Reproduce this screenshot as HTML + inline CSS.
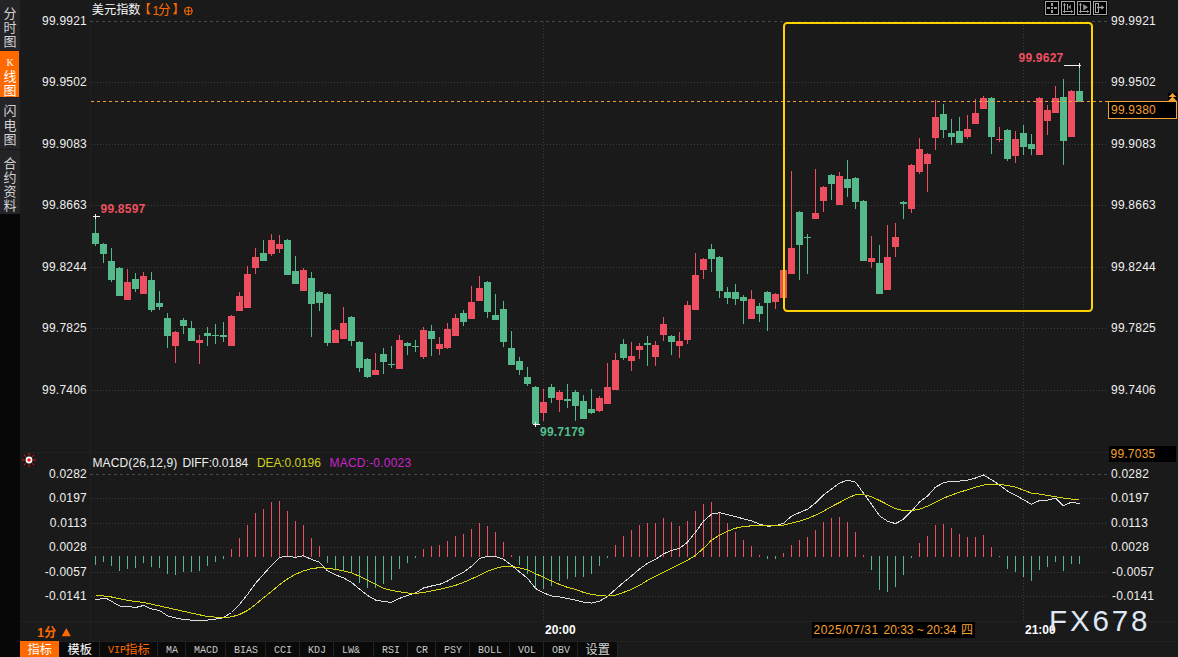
<!DOCTYPE html>
<html><head><meta charset="utf-8"><title>chart</title>
<style>
html,body{margin:0;padding:0;background:#1a1a1a;}
body{width:1178px;height:657px;position:relative;overflow:hidden;font-family:"Liberation Sans",sans-serif;}
svg{position:absolute;left:0;top:0;}
.t{position:absolute;white-space:nowrap;font-family:"Liberation Sans",sans-serif;}
</style></head><body>
<svg width="1178" height="657" viewBox="0 0 1178 657">
<rect x="0" y="0" width="20" height="214" fill="#242428"/>
<rect x="0" y="214" width="20" height="443" fill="#070707"/>
<rect x="0" y="51" width="19" height="46" fill="#ff6a00"/>
<rect x="0" y="50" width="20" height="1" fill="#1c1e24"/>
<rect x="0" y="97" width="20" height="1" fill="#1c1e24"/>
<rect x="0" y="149" width="20" height="1" fill="#18181a"/>
<rect x="90" y="0" width="1" height="641" fill="#1f1f1f"/>
<rect x="20" y="452" width="1089" height="1" fill="#202020"/>
<rect x="20" y="621" width="1158" height="1" fill="#212121"/>
<rect x="20" y="641" width="1158" height="1" fill="#202020"/>
<g shape-rendering="crispEdges">
<line x1="90" y1="21.5" x2="784" y2="21.5" stroke="#484848" stroke-width="1" stroke-dasharray="3 3"/>
<line x1="786" y1="21.5" x2="1092" y2="21.5" stroke="#2c2c2c" stroke-width="1" stroke-dasharray="3 3"/>
<line x1="1092" y1="21.5" x2="1107" y2="21.5" stroke="#484848" stroke-width="1" stroke-dasharray="3 3"/>
<line x1="91" y1="82.5" x2="1107" y2="82.5" stroke="#3b3b3b" stroke-width="1" stroke-dasharray="1 2"/>
<line x1="91" y1="144.5" x2="1107" y2="144.5" stroke="#3b3b3b" stroke-width="1" stroke-dasharray="1 2"/>
<line x1="91" y1="205.5" x2="1107" y2="205.5" stroke="#3b3b3b" stroke-width="1" stroke-dasharray="1 2"/>
<line x1="91" y1="267.5" x2="1107" y2="267.5" stroke="#3b3b3b" stroke-width="1" stroke-dasharray="1 2"/>
<line x1="91" y1="328.5" x2="1107" y2="328.5" stroke="#3b3b3b" stroke-width="1" stroke-dasharray="1 2"/>
<line x1="91" y1="390.5" x2="1107" y2="390.5" stroke="#3b3b3b" stroke-width="1" stroke-dasharray="1 2"/>
<line x1="90" y1="474.5" x2="1107" y2="474.5" stroke="#484848" stroke-width="1" stroke-dasharray="3 3"/>
<line x1="91" y1="498.5" x2="1107" y2="498.5" stroke="#3b3b3b" stroke-width="1" stroke-dasharray="1 2"/>
<line x1="91" y1="523.5" x2="1107" y2="523.5" stroke="#3b3b3b" stroke-width="1" stroke-dasharray="1 2"/>
<line x1="91" y1="547.5" x2="1107" y2="547.5" stroke="#3b3b3b" stroke-width="1" stroke-dasharray="1 2"/>
<line x1="91" y1="572.5" x2="1107" y2="572.5" stroke="#3b3b3b" stroke-width="1" stroke-dasharray="1 2"/>
<line x1="91" y1="596.5" x2="1107" y2="596.5" stroke="#3b3b3b" stroke-width="1" stroke-dasharray="1 2"/>
<line x1="543.5" y1="22" x2="543.5" y2="452" stroke="#3b3b3b" stroke-width="1" stroke-dasharray="1 2"/>
<line x1="543.5" y1="454" x2="543.5" y2="620" stroke="#3b3b3b" stroke-width="1" stroke-dasharray="1 2"/>
<line x1="1023.5" y1="22" x2="1023.5" y2="452" stroke="#3b3b3b" stroke-width="1" stroke-dasharray="1 2"/>
<line x1="1023.5" y1="454" x2="1023.5" y2="620" stroke="#3b3b3b" stroke-width="1" stroke-dasharray="1 2"/>
<rect x="95" y="216" width="1" height="30" fill="#55b98b"/>
<rect x="92" y="233" width="7" height="11" fill="#55b98b"/>
<rect x="103" y="243" width="1" height="20" fill="#55b98b"/>
<rect x="100" y="244" width="7" height="10" fill="#55b98b"/>
<rect x="111" y="248" width="1" height="34" fill="#55b98b"/>
<rect x="108" y="261" width="7" height="19" fill="#55b98b"/>
<rect x="119" y="267" width="1" height="29" fill="#55b98b"/>
<rect x="116" y="268" width="7" height="28" fill="#55b98b"/>
<rect x="127" y="269" width="1" height="31" fill="#ee4f60"/>
<rect x="124" y="282" width="7" height="18" fill="#ee4f60"/>
<rect x="135" y="273" width="1" height="19" fill="#55b98b"/>
<rect x="132" y="279" width="7" height="10" fill="#55b98b"/>
<rect x="143" y="272" width="1" height="22" fill="#ee4f60"/>
<rect x="140" y="276" width="7" height="18" fill="#ee4f60"/>
<rect x="151" y="272" width="1" height="40" fill="#55b98b"/>
<rect x="148" y="280" width="7" height="30" fill="#55b98b"/>
<rect x="159" y="291" width="1" height="19" fill="#55b98b"/>
<rect x="156" y="303" width="7" height="4" fill="#55b98b"/>
<rect x="167" y="313" width="1" height="35" fill="#55b98b"/>
<rect x="164" y="318" width="7" height="18" fill="#55b98b"/>
<rect x="175" y="331" width="1" height="32" fill="#ee4f60"/>
<rect x="172" y="332" width="7" height="14" fill="#ee4f60"/>
<rect x="183" y="318" width="1" height="16" fill="#55b98b"/>
<rect x="180" y="320" width="7" height="6" fill="#55b98b"/>
<rect x="191" y="321" width="1" height="20" fill="#55b98b"/>
<rect x="188" y="328" width="7" height="13" fill="#55b98b"/>
<rect x="199" y="335" width="1" height="29" fill="#ee4f60"/>
<rect x="196" y="340" width="7" height="3" fill="#ee4f60"/>
<rect x="207" y="327" width="1" height="19" fill="#55b98b"/>
<rect x="204" y="333" width="7" height="3" fill="#55b98b"/>
<rect x="215" y="324" width="1" height="20" fill="#55b98b"/>
<rect x="212" y="335" width="7" height="1" fill="#55b98b"/>
<rect x="223" y="322" width="1" height="20" fill="#55b98b"/>
<rect x="220" y="335" width="7" height="2" fill="#55b98b"/>
<rect x="231" y="315" width="1" height="31" fill="#ee4f60"/>
<rect x="228" y="316" width="7" height="30" fill="#ee4f60"/>
<rect x="239" y="292" width="1" height="19" fill="#ee4f60"/>
<rect x="236" y="296" width="7" height="15" fill="#ee4f60"/>
<rect x="247" y="266" width="1" height="42" fill="#ee4f60"/>
<rect x="244" y="274" width="7" height="34" fill="#ee4f60"/>
<rect x="255" y="248" width="1" height="26" fill="#ee4f60"/>
<rect x="252" y="257" width="7" height="11" fill="#ee4f60"/>
<rect x="263" y="240" width="1" height="21" fill="#55b98b"/>
<rect x="260" y="253" width="7" height="8" fill="#55b98b"/>
<rect x="271" y="234" width="1" height="22" fill="#ee4f60"/>
<rect x="268" y="240" width="7" height="14" fill="#ee4f60"/>
<rect x="279" y="235" width="1" height="18" fill="#ee4f60"/>
<rect x="276" y="244" width="7" height="5" fill="#ee4f60"/>
<rect x="287" y="239" width="1" height="36" fill="#55b98b"/>
<rect x="284" y="240" width="7" height="35" fill="#55b98b"/>
<rect x="295" y="256" width="1" height="28" fill="#55b98b"/>
<rect x="292" y="271" width="7" height="13" fill="#55b98b"/>
<rect x="303" y="268" width="1" height="23" fill="#ee4f60"/>
<rect x="300" y="270" width="7" height="21" fill="#ee4f60"/>
<rect x="311" y="272" width="1" height="65" fill="#55b98b"/>
<rect x="308" y="278" width="7" height="26" fill="#55b98b"/>
<rect x="319" y="291" width="1" height="20" fill="#55b98b"/>
<rect x="316" y="292" width="7" height="11" fill="#55b98b"/>
<rect x="327" y="293" width="1" height="53" fill="#55b98b"/>
<rect x="324" y="294" width="7" height="49" fill="#55b98b"/>
<rect x="335" y="329" width="1" height="14" fill="#ee4f60"/>
<rect x="332" y="330" width="7" height="13" fill="#ee4f60"/>
<rect x="343" y="307" width="1" height="32" fill="#ee4f60"/>
<rect x="340" y="323" width="7" height="16" fill="#ee4f60"/>
<rect x="351" y="316" width="1" height="30" fill="#55b98b"/>
<rect x="348" y="317" width="7" height="24" fill="#55b98b"/>
<rect x="359" y="341" width="1" height="31" fill="#55b98b"/>
<rect x="356" y="342" width="7" height="26" fill="#55b98b"/>
<rect x="367" y="358" width="1" height="20" fill="#55b98b"/>
<rect x="364" y="359" width="7" height="18" fill="#55b98b"/>
<rect x="375" y="353" width="1" height="22" fill="#ee4f60"/>
<rect x="372" y="370" width="7" height="5" fill="#ee4f60"/>
<rect x="383" y="348" width="1" height="26" fill="#55b98b"/>
<rect x="380" y="354" width="7" height="8" fill="#55b98b"/>
<rect x="391" y="346" width="1" height="22" fill="#55b98b"/>
<rect x="388" y="364" width="7" height="1" fill="#55b98b"/>
<rect x="399" y="335" width="1" height="34" fill="#ee4f60"/>
<rect x="396" y="340" width="7" height="29" fill="#ee4f60"/>
<rect x="407" y="342" width="1" height="13" fill="#55b98b"/>
<rect x="404" y="343" width="7" height="3" fill="#55b98b"/>
<rect x="415" y="340" width="1" height="12" fill="#55b98b"/>
<rect x="412" y="346" width="7" height="1" fill="#55b98b"/>
<rect x="423" y="327" width="1" height="32" fill="#ee4f60"/>
<rect x="420" y="330" width="7" height="27" fill="#ee4f60"/>
<rect x="431" y="325" width="1" height="31" fill="#55b98b"/>
<rect x="428" y="331" width="7" height="8" fill="#55b98b"/>
<rect x="439" y="337" width="1" height="18" fill="#ee4f60"/>
<rect x="436" y="344" width="7" height="5" fill="#ee4f60"/>
<rect x="447" y="323" width="1" height="26" fill="#ee4f60"/>
<rect x="444" y="329" width="7" height="19" fill="#ee4f60"/>
<rect x="455" y="314" width="1" height="22" fill="#ee4f60"/>
<rect x="452" y="318" width="7" height="18" fill="#ee4f60"/>
<rect x="463" y="310" width="1" height="16" fill="#55b98b"/>
<rect x="460" y="313" width="7" height="9" fill="#55b98b"/>
<rect x="471" y="286" width="1" height="33" fill="#ee4f60"/>
<rect x="468" y="302" width="7" height="17" fill="#ee4f60"/>
<rect x="479" y="276" width="1" height="25" fill="#ee4f60"/>
<rect x="476" y="288" width="7" height="13" fill="#ee4f60"/>
<rect x="487" y="281" width="1" height="37" fill="#55b98b"/>
<rect x="484" y="282" width="7" height="30" fill="#55b98b"/>
<rect x="495" y="294" width="1" height="26" fill="#55b98b"/>
<rect x="492" y="315" width="7" height="5" fill="#55b98b"/>
<rect x="503" y="301" width="1" height="46" fill="#55b98b"/>
<rect x="500" y="309" width="7" height="33" fill="#55b98b"/>
<rect x="511" y="331" width="1" height="34" fill="#55b98b"/>
<rect x="508" y="348" width="7" height="17" fill="#55b98b"/>
<rect x="519" y="357" width="1" height="18" fill="#55b98b"/>
<rect x="516" y="361" width="7" height="9" fill="#55b98b"/>
<rect x="527" y="367" width="1" height="19" fill="#55b98b"/>
<rect x="524" y="377" width="7" height="7" fill="#55b98b"/>
<rect x="535" y="386" width="1" height="39" fill="#55b98b"/>
<rect x="532" y="387" width="7" height="37" fill="#55b98b"/>
<rect x="543" y="389" width="1" height="32" fill="#ee4f60"/>
<rect x="540" y="402" width="7" height="11" fill="#ee4f60"/>
<rect x="551" y="384" width="1" height="19" fill="#55b98b"/>
<rect x="548" y="387" width="7" height="11" fill="#55b98b"/>
<rect x="559" y="390" width="1" height="22" fill="#ee4f60"/>
<rect x="556" y="392" width="7" height="8" fill="#ee4f60"/>
<rect x="567" y="384" width="1" height="24" fill="#55b98b"/>
<rect x="564" y="399" width="7" height="2" fill="#55b98b"/>
<rect x="575" y="390" width="1" height="31" fill="#55b98b"/>
<rect x="572" y="392" width="7" height="14" fill="#55b98b"/>
<rect x="583" y="395" width="1" height="24" fill="#55b98b"/>
<rect x="580" y="401" width="7" height="18" fill="#55b98b"/>
<rect x="591" y="389" width="1" height="25" fill="#55b98b"/>
<rect x="588" y="409" width="7" height="4" fill="#55b98b"/>
<rect x="599" y="396" width="1" height="16" fill="#ee4f60"/>
<rect x="596" y="398" width="7" height="13" fill="#ee4f60"/>
<rect x="607" y="363" width="1" height="41" fill="#ee4f60"/>
<rect x="604" y="387" width="7" height="17" fill="#ee4f60"/>
<rect x="615" y="353" width="1" height="37" fill="#ee4f60"/>
<rect x="612" y="360" width="7" height="30" fill="#ee4f60"/>
<rect x="623" y="339" width="1" height="21" fill="#55b98b"/>
<rect x="620" y="344" width="7" height="14" fill="#55b98b"/>
<rect x="631" y="342" width="1" height="29" fill="#ee4f60"/>
<rect x="628" y="356" width="7" height="5" fill="#ee4f60"/>
<rect x="639" y="343" width="1" height="16" fill="#ee4f60"/>
<rect x="636" y="346" width="7" height="4" fill="#ee4f60"/>
<rect x="647" y="336" width="1" height="30" fill="#55b98b"/>
<rect x="644" y="343" width="7" height="2" fill="#55b98b"/>
<rect x="655" y="341" width="1" height="25" fill="#ee4f60"/>
<rect x="652" y="345" width="7" height="12" fill="#ee4f60"/>
<rect x="663" y="317" width="1" height="24" fill="#ee4f60"/>
<rect x="660" y="324" width="7" height="11" fill="#ee4f60"/>
<rect x="671" y="335" width="1" height="20" fill="#55b98b"/>
<rect x="668" y="336" width="7" height="6" fill="#55b98b"/>
<rect x="679" y="332" width="1" height="26" fill="#ee4f60"/>
<rect x="676" y="341" width="7" height="5" fill="#ee4f60"/>
<rect x="687" y="301" width="1" height="43" fill="#ee4f60"/>
<rect x="684" y="305" width="7" height="35" fill="#ee4f60"/>
<rect x="695" y="253" width="1" height="57" fill="#ee4f60"/>
<rect x="692" y="275" width="7" height="35" fill="#ee4f60"/>
<rect x="703" y="258" width="1" height="21" fill="#ee4f60"/>
<rect x="700" y="259" width="7" height="11" fill="#ee4f60"/>
<rect x="711" y="244" width="1" height="28" fill="#55b98b"/>
<rect x="708" y="249" width="7" height="10" fill="#55b98b"/>
<rect x="719" y="256" width="1" height="42" fill="#55b98b"/>
<rect x="716" y="257" width="7" height="34" fill="#55b98b"/>
<rect x="727" y="287" width="1" height="17" fill="#55b98b"/>
<rect x="724" y="292" width="7" height="6" fill="#55b98b"/>
<rect x="735" y="284" width="1" height="21" fill="#55b98b"/>
<rect x="732" y="292" width="7" height="7" fill="#55b98b"/>
<rect x="743" y="295" width="1" height="29" fill="#55b98b"/>
<rect x="740" y="297" width="7" height="4" fill="#55b98b"/>
<rect x="751" y="290" width="1" height="29" fill="#ee4f60"/>
<rect x="748" y="299" width="7" height="20" fill="#ee4f60"/>
<rect x="759" y="303" width="1" height="19" fill="#55b98b"/>
<rect x="756" y="306" width="7" height="8" fill="#55b98b"/>
<rect x="767" y="291" width="1" height="40" fill="#55b98b"/>
<rect x="764" y="292" width="7" height="11" fill="#55b98b"/>
<rect x="775" y="293" width="1" height="16" fill="#ee4f60"/>
<rect x="772" y="294" width="7" height="8" fill="#ee4f60"/>
<rect x="783" y="270" width="1" height="28" fill="#ee4f60"/>
<rect x="780" y="270" width="7" height="28" fill="#ee4f60"/>
<rect x="791" y="171" width="1" height="103" fill="#ee4f60"/>
<rect x="788" y="248" width="7" height="26" fill="#ee4f60"/>
<rect x="799" y="211" width="1" height="69" fill="#55b98b"/>
<rect x="796" y="212" width="7" height="33" fill="#55b98b"/>
<rect x="807" y="234" width="1" height="40" fill="#55b98b"/>
<rect x="804" y="237" width="7" height="1" fill="#55b98b"/>
<rect x="815" y="169" width="1" height="50" fill="#ee4f60"/>
<rect x="812" y="213" width="7" height="6" fill="#ee4f60"/>
<rect x="823" y="186" width="1" height="26" fill="#ee4f60"/>
<rect x="820" y="187" width="7" height="14" fill="#ee4f60"/>
<rect x="831" y="174" width="1" height="26" fill="#55b98b"/>
<rect x="828" y="175" width="7" height="9" fill="#55b98b"/>
<rect x="839" y="172" width="1" height="33" fill="#ee4f60"/>
<rect x="836" y="176" width="7" height="29" fill="#ee4f60"/>
<rect x="847" y="160" width="1" height="37" fill="#55b98b"/>
<rect x="844" y="179" width="7" height="9" fill="#55b98b"/>
<rect x="855" y="177" width="1" height="32" fill="#55b98b"/>
<rect x="852" y="178" width="7" height="24" fill="#55b98b"/>
<rect x="863" y="200" width="1" height="61" fill="#55b98b"/>
<rect x="860" y="201" width="7" height="60" fill="#55b98b"/>
<rect x="871" y="236" width="1" height="32" fill="#ee4f60"/>
<rect x="868" y="258" width="7" height="4" fill="#ee4f60"/>
<rect x="879" y="245" width="1" height="49" fill="#55b98b"/>
<rect x="876" y="263" width="7" height="31" fill="#55b98b"/>
<rect x="887" y="225" width="1" height="65" fill="#ee4f60"/>
<rect x="884" y="257" width="7" height="33" fill="#ee4f60"/>
<rect x="895" y="223" width="1" height="34" fill="#ee4f60"/>
<rect x="892" y="237" width="7" height="10" fill="#ee4f60"/>
<rect x="903" y="201" width="1" height="18" fill="#55b98b"/>
<rect x="900" y="202" width="7" height="2" fill="#55b98b"/>
<rect x="911" y="164" width="1" height="49" fill="#ee4f60"/>
<rect x="908" y="165" width="7" height="44" fill="#ee4f60"/>
<rect x="919" y="138" width="1" height="36" fill="#ee4f60"/>
<rect x="916" y="149" width="7" height="23" fill="#ee4f60"/>
<rect x="927" y="153" width="1" height="39" fill="#ee4f60"/>
<rect x="924" y="154" width="7" height="10" fill="#ee4f60"/>
<rect x="935" y="100" width="1" height="50" fill="#ee4f60"/>
<rect x="932" y="117" width="7" height="21" fill="#ee4f60"/>
<rect x="943" y="104" width="1" height="34" fill="#55b98b"/>
<rect x="940" y="114" width="7" height="16" fill="#55b98b"/>
<rect x="951" y="119" width="1" height="26" fill="#55b98b"/>
<rect x="948" y="133" width="7" height="4" fill="#55b98b"/>
<rect x="959" y="117" width="1" height="26" fill="#55b98b"/>
<rect x="956" y="131" width="7" height="12" fill="#55b98b"/>
<rect x="967" y="115" width="1" height="24" fill="#ee4f60"/>
<rect x="964" y="129" width="7" height="8" fill="#ee4f60"/>
<rect x="975" y="99" width="1" height="25" fill="#ee4f60"/>
<rect x="972" y="113" width="7" height="11" fill="#ee4f60"/>
<rect x="983" y="96" width="1" height="13" fill="#ee4f60"/>
<rect x="980" y="98" width="7" height="11" fill="#ee4f60"/>
<rect x="991" y="97" width="1" height="57" fill="#55b98b"/>
<rect x="988" y="98" width="7" height="39" fill="#55b98b"/>
<rect x="999" y="127" width="1" height="15" fill="#ee4f60"/>
<rect x="996" y="139" width="7" height="1" fill="#ee4f60"/>
<rect x="1007" y="129" width="1" height="32" fill="#55b98b"/>
<rect x="1004" y="130" width="7" height="29" fill="#55b98b"/>
<rect x="1015" y="131" width="1" height="32" fill="#ee4f60"/>
<rect x="1012" y="139" width="7" height="17" fill="#ee4f60"/>
<rect x="1023" y="125" width="1" height="30" fill="#55b98b"/>
<rect x="1020" y="133" width="7" height="14" fill="#55b98b"/>
<rect x="1031" y="134" width="1" height="21" fill="#55b98b"/>
<rect x="1028" y="144" width="7" height="5" fill="#55b98b"/>
<rect x="1039" y="97" width="1" height="58" fill="#ee4f60"/>
<rect x="1036" y="98" width="7" height="57" fill="#ee4f60"/>
<rect x="1047" y="105" width="1" height="30" fill="#ee4f60"/>
<rect x="1044" y="110" width="7" height="11" fill="#ee4f60"/>
<rect x="1055" y="86" width="1" height="27" fill="#ee4f60"/>
<rect x="1052" y="98" width="7" height="15" fill="#ee4f60"/>
<rect x="1063" y="79" width="1" height="86" fill="#55b98b"/>
<rect x="1060" y="97" width="7" height="44" fill="#55b98b"/>
<rect x="1071" y="90" width="1" height="47" fill="#ee4f60"/>
<rect x="1068" y="91" width="7" height="46" fill="#ee4f60"/>
<rect x="1079" y="65" width="1" height="37" fill="#55b98b"/>
<rect x="1076" y="91" width="7" height="11" fill="#55b98b"/>
<rect x="95" y="556" width="1" height="9" fill="#55b98b"/>
<rect x="103" y="556" width="1" height="6" fill="#55b98b"/>
<rect x="111" y="556" width="1" height="10" fill="#55b98b"/>
<rect x="119" y="556" width="1" height="15" fill="#55b98b"/>
<rect x="127" y="556" width="1" height="13" fill="#55b98b"/>
<rect x="135" y="556" width="1" height="12" fill="#55b98b"/>
<rect x="143" y="556" width="1" height="7" fill="#55b98b"/>
<rect x="151" y="556" width="1" height="11" fill="#55b98b"/>
<rect x="159" y="556" width="1" height="12" fill="#55b98b"/>
<rect x="167" y="556" width="1" height="18" fill="#55b98b"/>
<rect x="175" y="556" width="1" height="19" fill="#55b98b"/>
<rect x="183" y="556" width="1" height="16" fill="#55b98b"/>
<rect x="191" y="556" width="1" height="16" fill="#55b98b"/>
<rect x="199" y="556" width="1" height="15" fill="#55b98b"/>
<rect x="207" y="556" width="1" height="10" fill="#55b98b"/>
<rect x="215" y="556" width="1" height="6" fill="#55b98b"/>
<rect x="223" y="556" width="1" height="3" fill="#55b98b"/>
<rect x="231" y="549" width="1" height="8" fill="#ee4f60"/>
<rect x="239" y="538" width="1" height="19" fill="#ee4f60"/>
<rect x="247" y="525" width="1" height="32" fill="#ee4f60"/>
<rect x="255" y="513" width="1" height="44" fill="#ee4f60"/>
<rect x="263" y="509" width="1" height="48" fill="#ee4f60"/>
<rect x="271" y="502" width="1" height="55" fill="#ee4f60"/>
<rect x="279" y="501" width="1" height="56" fill="#ee4f60"/>
<rect x="287" y="511" width="1" height="46" fill="#ee4f60"/>
<rect x="295" y="521" width="1" height="36" fill="#ee4f60"/>
<rect x="303" y="525" width="1" height="32" fill="#ee4f60"/>
<rect x="311" y="538" width="1" height="19" fill="#ee4f60"/>
<rect x="319" y="546" width="1" height="11" fill="#ee4f60"/>
<rect x="327" y="556" width="1" height="7" fill="#55b98b"/>
<rect x="335" y="556" width="1" height="13" fill="#55b98b"/>
<rect x="343" y="556" width="1" height="14" fill="#55b98b"/>
<rect x="351" y="556" width="1" height="17" fill="#55b98b"/>
<rect x="359" y="556" width="1" height="27" fill="#55b98b"/>
<rect x="367" y="556" width="1" height="32" fill="#55b98b"/>
<rect x="375" y="556" width="1" height="32" fill="#55b98b"/>
<rect x="383" y="556" width="1" height="28" fill="#55b98b"/>
<rect x="391" y="556" width="1" height="24" fill="#55b98b"/>
<rect x="399" y="556" width="1" height="13" fill="#55b98b"/>
<rect x="407" y="556" width="1" height="7" fill="#55b98b"/>
<rect x="415" y="556" width="1" height="2" fill="#55b98b"/>
<rect x="423" y="549" width="1" height="8" fill="#ee4f60"/>
<rect x="431" y="546" width="1" height="11" fill="#ee4f60"/>
<rect x="439" y="545" width="1" height="12" fill="#ee4f60"/>
<rect x="447" y="541" width="1" height="16" fill="#ee4f60"/>
<rect x="455" y="536" width="1" height="21" fill="#ee4f60"/>
<rect x="463" y="534" width="1" height="23" fill="#ee4f60"/>
<rect x="471" y="529" width="1" height="28" fill="#ee4f60"/>
<rect x="479" y="523" width="1" height="34" fill="#ee4f60"/>
<rect x="487" y="526" width="1" height="31" fill="#ee4f60"/>
<rect x="495" y="532" width="1" height="25" fill="#ee4f60"/>
<rect x="503" y="542" width="1" height="15" fill="#ee4f60"/>
<rect x="511" y="555" width="1" height="2" fill="#ee4f60"/>
<rect x="519" y="556" width="1" height="9" fill="#55b98b"/>
<rect x="527" y="556" width="1" height="18" fill="#55b98b"/>
<rect x="535" y="556" width="1" height="32" fill="#55b98b"/>
<rect x="543" y="556" width="1" height="33" fill="#55b98b"/>
<rect x="551" y="556" width="1" height="30" fill="#55b98b"/>
<rect x="559" y="556" width="1" height="25" fill="#55b98b"/>
<rect x="567" y="556" width="1" height="23" fill="#55b98b"/>
<rect x="575" y="556" width="1" height="21" fill="#55b98b"/>
<rect x="583" y="556" width="1" height="21" fill="#55b98b"/>
<rect x="591" y="556" width="1" height="18" fill="#55b98b"/>
<rect x="599" y="556" width="1" height="10" fill="#55b98b"/>
<rect x="607" y="556" width="1" height="2" fill="#55b98b"/>
<rect x="615" y="545" width="1" height="12" fill="#ee4f60"/>
<rect x="623" y="536" width="1" height="21" fill="#ee4f60"/>
<rect x="631" y="530" width="1" height="27" fill="#ee4f60"/>
<rect x="639" y="525" width="1" height="32" fill="#ee4f60"/>
<rect x="647" y="523" width="1" height="34" fill="#ee4f60"/>
<rect x="655" y="523" width="1" height="34" fill="#ee4f60"/>
<rect x="663" y="518" width="1" height="39" fill="#ee4f60"/>
<rect x="671" y="522" width="1" height="35" fill="#ee4f60"/>
<rect x="679" y="526" width="1" height="31" fill="#ee4f60"/>
<rect x="687" y="521" width="1" height="36" fill="#ee4f60"/>
<rect x="695" y="511" width="1" height="46" fill="#ee4f60"/>
<rect x="703" y="504" width="1" height="53" fill="#ee4f60"/>
<rect x="711" y="502" width="1" height="55" fill="#ee4f60"/>
<rect x="719" y="513" width="1" height="44" fill="#ee4f60"/>
<rect x="727" y="523" width="1" height="34" fill="#ee4f60"/>
<rect x="735" y="532" width="1" height="25" fill="#ee4f60"/>
<rect x="743" y="540" width="1" height="17" fill="#ee4f60"/>
<rect x="751" y="546" width="1" height="11" fill="#ee4f60"/>
<rect x="759" y="555" width="1" height="2" fill="#ee4f60"/>
<rect x="767" y="556" width="1" height="3" fill="#55b98b"/>
<rect x="775" y="556" width="1" height="3" fill="#55b98b"/>
<rect x="783" y="553" width="1" height="4" fill="#ee4f60"/>
<rect x="791" y="545" width="1" height="12" fill="#ee4f60"/>
<rect x="799" y="540" width="1" height="17" fill="#ee4f60"/>
<rect x="807" y="537" width="1" height="20" fill="#ee4f60"/>
<rect x="815" y="530" width="1" height="27" fill="#ee4f60"/>
<rect x="823" y="522" width="1" height="35" fill="#ee4f60"/>
<rect x="831" y="518" width="1" height="39" fill="#ee4f60"/>
<rect x="839" y="517" width="1" height="40" fill="#ee4f60"/>
<rect x="847" y="522" width="1" height="35" fill="#ee4f60"/>
<rect x="855" y="532" width="1" height="25" fill="#ee4f60"/>
<rect x="863" y="555" width="1" height="2" fill="#ee4f60"/>
<rect x="871" y="556" width="1" height="14" fill="#55b98b"/>
<rect x="879" y="556" width="1" height="34" fill="#55b98b"/>
<rect x="887" y="556" width="1" height="36" fill="#55b98b"/>
<rect x="895" y="556" width="1" height="31" fill="#55b98b"/>
<rect x="903" y="556" width="1" height="19" fill="#55b98b"/>
<rect x="911" y="556" width="1" height="2" fill="#55b98b"/>
<rect x="919" y="543" width="1" height="14" fill="#ee4f60"/>
<rect x="927" y="536" width="1" height="21" fill="#ee4f60"/>
<rect x="935" y="525" width="1" height="32" fill="#ee4f60"/>
<rect x="943" y="524" width="1" height="33" fill="#ee4f60"/>
<rect x="951" y="528" width="1" height="29" fill="#ee4f60"/>
<rect x="959" y="534" width="1" height="23" fill="#ee4f60"/>
<rect x="967" y="537" width="1" height="20" fill="#ee4f60"/>
<rect x="975" y="537" width="1" height="20" fill="#ee4f60"/>
<rect x="983" y="535" width="1" height="22" fill="#ee4f60"/>
<rect x="991" y="547" width="1" height="10" fill="#ee4f60"/>
<rect x="999" y="556" width="1" height="1" fill="#55b98b"/>
<rect x="1007" y="556" width="1" height="13" fill="#55b98b"/>
<rect x="1015" y="556" width="1" height="16" fill="#55b98b"/>
<rect x="1023" y="556" width="1" height="21" fill="#55b98b"/>
<rect x="1031" y="556" width="1" height="25" fill="#55b98b"/>
<rect x="1039" y="556" width="1" height="14" fill="#55b98b"/>
<rect x="1047" y="556" width="1" height="11" fill="#55b98b"/>
<rect x="1055" y="556" width="1" height="6" fill="#55b98b"/>
<rect x="1063" y="556" width="1" height="15" fill="#55b98b"/>
<rect x="1071" y="556" width="1" height="8" fill="#55b98b"/>
<rect x="1079" y="556" width="1" height="8" fill="#55b98b"/>
<line x1="91" y1="101.5" x2="1108" y2="101.5" stroke="#f5a133" stroke-width="1" stroke-dasharray="3 3"/>
<rect x="93" y="216" width="7" height="1" fill="#f0f0f0"/><rect x="95" y="214" width="1" height="5" fill="#f0f0f0"/>
<rect x="533" y="424" width="7" height="1" fill="#f0f0f0"/><rect x="535" y="422" width="1" height="5" fill="#f0f0f0"/>
<rect x="1064" y="65" width="17" height="1" fill="#f0f0f0"/><rect x="1079" y="63" width="1" height="5" fill="#f0f0f0"/>
</g>
<polyline points="95.5,599.8 103.5,598.4 107.5,599.0 119.5,606.0 127.5,606.5 135.5,607.5 143.5,605.5 151.5,608.9 159.5,610.5 167.5,615.9 175.5,617.9 183.5,619.5 191.5,620.1 199.5,620.1 207.5,620.1 215.5,619.1 223.5,617.7 231.5,612.5 239.5,604.4 247.5,594.4 255.5,583.4 263.5,574.3 271.5,565.3 279.5,557.3 287.5,556.3 295.5,557.3 303.5,555.7 311.5,559.3 319.5,562.3 327.5,570.9 335.5,574.9 343.5,577.9 351.5,582.4 359.5,589.0 367.5,595.4 375.5,600.0 383.5,601.4 391.5,602.4 399.5,598.4 407.5,595.4 415.5,593.0 423.5,588.0 431.5,586.0 439.5,584.4 447.5,581.0 455.5,576.3 463.5,572.3 471.5,566.3 479.5,558.3 487.5,556.3 495.5,556.3 503.5,559.3 511.5,565.3 519.5,571.9 527.5,578.3 535.5,588.4 543.5,592.9 551.5,595.9 559.5,596.9 567.5,598.5 575.5,600.1 583.5,602.1 591.5,603.1 599.5,601.1 607.5,596.5 615.5,589.4 623.5,582.4 631.5,576.0 639.5,569.0 647.5,563.3 655.5,559.3 663.5,553.9 671.5,550.3 679.5,548.3 687.5,542.2 695.5,532.2 703.5,521.2 711.5,514.1 719.5,512.7 727.5,514.5 735.5,516.7 743.5,518.8 751.5,520.8 759.5,524.2 767.5,526.2 775.5,525.8 783.5,523.2 791.5,516.2 799.5,512.6 807.5,509.2 815.5,503.1 823.5,495.1 831.5,489.1 839.5,483.1 847.5,480.1 855.5,482.1 863.5,493.1 871.5,504.2 879.5,515.8 887.5,521.2 895.5,523.6 903.5,519.2 911.5,511.2 919.5,502.1 927.5,496.1 935.5,487.1 943.5,482.8 951.5,481.1 959.5,481.1 967.5,480.1 975.5,478.0 983.5,475.0 991.5,479.7 999.5,485.1 1007.5,491.1 1015.5,495.1 1023.5,499.7 1031.5,504.2 1039.5,500.5 1047.5,500.1 1055.5,498.1 1063.5,505.8 1071.5,502.1 1079.5,503.6" fill="none" stroke="#dcdcdc" stroke-width="1" stroke-linejoin="round" shape-rendering="crispEdges"/>
<polyline points="95.5,595.0 111.5,597.0 127.5,600.4 143.5,602.4 159.5,605.9 175.5,609.5 191.5,613.1 207.5,616.5 223.5,617.7 231.5,616.9 239.5,614.5 247.5,610.5 255.5,604.4 263.5,597.8 271.5,591.4 279.5,584.8 287.5,578.9 295.5,574.3 303.5,570.9 311.5,568.7 319.5,567.6 327.5,568.3 335.5,569.3 343.5,570.9 351.5,572.9 359.5,576.3 367.5,580.4 375.5,584.4 383.5,588.4 391.5,590.4 399.5,591.8 407.5,593.0 415.5,593.4 423.5,592.4 431.5,591.0 439.5,589.4 447.5,587.4 455.5,585.4 463.5,582.4 471.5,578.9 479.5,575.3 487.5,571.3 495.5,568.3 503.5,566.3 511.5,566.3 519.5,567.9 527.5,569.9 535.5,573.7 543.5,577.2 551.5,581.0 559.5,584.4 567.5,587.4 575.5,589.4 583.5,592.4 591.5,594.5 599.5,595.5 607.5,596.1 615.5,595.1 623.5,592.4 631.5,589.4 639.5,585.4 647.5,580.4 655.5,576.4 663.5,572.4 671.5,568.4 679.5,564.3 687.5,560.3 695.5,555.3 703.5,548.3 711.5,540.2 719.5,535.2 727.5,531.2 735.5,528.2 743.5,526.6 751.5,525.8 759.5,525.6 767.5,525.7 775.5,525.8 783.5,525.2 791.5,523.2 799.5,521.2 807.5,518.6 815.5,515.2 823.5,511.2 831.5,506.6 839.5,502.5 847.5,498.1 855.5,494.7 863.5,494.7 871.5,496.7 879.5,500.5 887.5,504.6 895.5,508.6 903.5,510.6 911.5,510.6 919.5,509.2 927.5,506.2 935.5,502.1 943.5,498.1 951.5,495.1 959.5,492.1 967.5,489.9 975.5,487.1 983.5,485.1 991.5,484.1 999.5,484.5 1007.5,485.5 1015.5,487.1 1023.5,490.1 1031.5,493.1 1039.5,494.1 1047.5,495.5 1055.5,496.7 1063.5,498.1 1071.5,499.1 1079.5,499.5" fill="none" stroke="#d6d612" stroke-width="1" stroke-linejoin="round" shape-rendering="crispEdges"/>
<rect x="784" y="23" width="308" height="288" rx="3.2" ry="3.2" fill="none" stroke="#ffd200" stroke-width="2"/>
<g shape-rendering="crispEdges">
<rect x="1108.5" y="101.5" width="68" height="17" fill="#000" stroke="#f5a133" stroke-width="1"/>
<rect x="1168" y="93" width="9" height="8" fill="#000"/>
<rect x="1109" y="446" width="67" height="16" fill="#000"/>
<rect x="812" y="622" width="163" height="16" fill="#000"/>
<rect x="20" y="642" width="598" height="15" fill="#0a0a0a"/>
<rect x="20" y="641" width="39" height="16" fill="#ff6a00"/>
<rect x="99" y="642" width="1" height="15" fill="#232323"/>
<rect x="157" y="642" width="1" height="15" fill="#232323"/>
<rect x="185" y="642" width="1" height="15" fill="#232323"/>
<rect x="225" y="642" width="1" height="15" fill="#232323"/>
<rect x="265" y="642" width="1" height="15" fill="#232323"/>
<rect x="299" y="642" width="1" height="15" fill="#232323"/>
<rect x="333" y="642" width="1" height="15" fill="#232323"/>
<rect x="373" y="642" width="1" height="15" fill="#232323"/>
<rect x="407" y="642" width="1" height="15" fill="#232323"/>
<rect x="435" y="642" width="1" height="15" fill="#232323"/>
<rect x="469" y="642" width="1" height="15" fill="#232323"/>
<rect x="509" y="642" width="1" height="15" fill="#232323"/>
<rect x="543" y="642" width="1" height="15" fill="#232323"/>
<rect x="577" y="642" width="1" height="15" fill="#232323"/>
<rect x="617" y="642" width="1" height="15" fill="#232323"/>
</g>
<path d="M1172.5 93 L1176.5 97 L1168.5 97 Z M1172.5 96.6 L1176.8 101 L1168.2 101 Z" fill="#f5a133"/>
<g shape-rendering="crispEdges">
<rect x="1044" y="0" width="64" height="16" fill="#060606"/>
<rect x="1045.5" y="1.5" width="13" height="13" fill="#000" stroke="#a6a6a6" stroke-width="1"/>
<rect x="1061.5" y="1.5" width="13" height="13" fill="#000" stroke="#a6a6a6" stroke-width="1"/>
<rect x="1077.5" y="1.5" width="13" height="13" fill="#000" stroke="#a6a6a6" stroke-width="1"/>
<rect x="1093.5" y="1.5" width="13" height="13" fill="#000" stroke="#a6a6a6" stroke-width="1"/>
<rect x="1051" y="3" width="2" height="3" fill="#9a9a9a"/>
<rect x="1051" y="7" width="2" height="2" fill="#9a9a9a"/>
<rect x="1051" y="10" width="2" height="3" fill="#9a9a9a"/>
<rect x="1047" y="7" width="3" height="2" fill="#9a9a9a"/>
<rect x="1054" y="7" width="3" height="2" fill="#9a9a9a"/>
</g>
<path d="M1064.5 3.6 V12.6 M1063.4 11.5 H1072.6" stroke="#a6a6a6" stroke-width="1" fill="none"/>
<path d="M1064.5 2.9 l1.6 2.3 h-3.2 z M1062.9 11.5 l2 -1.6 v3.2 z M1073.1 11.5 l-2.1 -1.6 v3.2 z" fill="#a6a6a6"/>
<path d="M1080.5 3.6 V12.6 M1079.4 11.5 H1088.6" stroke="#a6a6a6" stroke-width="1" fill="none"/>
<path d="M1080.5 2.9 l1.6 2.3 h-3.2 z M1078.9 11.5 l2 -1.6 v3.2 z M1089.1 11.5 l-2.1 -1.6 v3.2 z" fill="#a6a6a6"/>
<rect x="1067" y="4" width="1" height="6" fill="#a6a6a6"/><path d="M1068.2 7 L1070.8 4.4 V9.6 Z" fill="#8e8e8e"/>
<path d="M1083.2 4 L1088 7.2 L1083.2 10.4 Z" fill="#8e8e8e"/>
<rect x="1095.5" y="3.5" width="3" height="9" fill="none" stroke="#a6a6a6" stroke-width="1"/>
<path d="M1097 7.5 H1102" stroke="#a6a6a6" stroke-width="1.3"/><path d="M1104.3 7.5 l-2.9 -2.3 v4.6 z" fill="#a6a6a6"/>
<line x1="33.6" y1="460.0" x2="36.2" y2="460.0" stroke="#ff1010" stroke-width="1"/>
<line x1="32.3" y1="463.3" x2="34.1" y2="465.1" stroke="#ff1010" stroke-width="1"/>
<line x1="29.0" y1="464.6" x2="29.0" y2="467.2" stroke="#ff1010" stroke-width="1"/>
<line x1="25.7" y1="463.3" x2="23.9" y2="465.1" stroke="#ff1010" stroke-width="1"/>
<line x1="24.4" y1="460.0" x2="21.8" y2="460.0" stroke="#ff1010" stroke-width="1"/>
<line x1="25.7" y1="456.7" x2="23.9" y2="454.9" stroke="#ff1010" stroke-width="1"/>
<line x1="29.0" y1="455.4" x2="29.0" y2="452.8" stroke="#ff1010" stroke-width="1"/>
<line x1="32.3" y1="456.7" x2="34.1" y2="454.9" stroke="#ff1010" stroke-width="1"/>
<circle cx="29" cy="460" r="3.4" fill="#fff"/><circle cx="29" cy="460" r="1.7" fill="#ff1010"/>
<circle cx="188.4" cy="11" r="3.9" fill="none" stroke="#ff6a00" stroke-width="1"/><path d="M184.5 11 H192.3 M188.4 7.1 V14.9" stroke="#ff6a00" stroke-width="1"/>
<path d="M66.3 628 L70.8 636.3 L61.8 636.3 Z" fill="#ff6a00"/>
<g font-family="'Liberation Sans','Noto Sans CJK SC',sans-serif">
<text x="3.5" y="17.8" font-size="13" fill="#d2d2d2">分</text>
<text x="3.5" y="31.6" font-size="13" fill="#d2d2d2">时</text>
<text x="3.5" y="45.9" font-size="13" fill="#d2d2d2">图</text>
<text x="3.5" y="115.2" font-size="13" fill="#d2d2d2">闪</text>
<text x="3.5" y="130.4" font-size="13" fill="#d2d2d2">电</text>
<text x="3.5" y="144.3" font-size="13" fill="#d2d2d2">图</text>
<text x="3.5" y="167.9" font-size="13" fill="#d2d2d2">合</text>
<text x="3.5" y="182.1" font-size="13" fill="#d2d2d2">约</text>
<text x="3.5" y="196.2" font-size="13" fill="#d2d2d2">资</text>
<text x="3.5" y="210.4" font-size="13" fill="#d2d2d2">料</text>
<text x="6.5" y="66" font-size="10" fill="#fff" font-family="'Liberation Serif',serif">K</text>
<text x="3.5" y="80.9" font-size="13" fill="#fff">线</text>
<text x="3.5" y="94.6" font-size="13" fill="#fff">图</text>
<text x="91.8" y="14.4" font-size="12.2" fill="#f6f6f6">美元指数</text>
<text x="138.8" y="14.3" font-size="12" fill="#ff6a00">【</text>
<text x="157.9" y="14.4" font-size="12.6" fill="#ff6a00">分</text>
<text x="172.4" y="14.3" font-size="12" fill="#ff6a00">】</text>
<text x="44.2" y="637.2" font-size="12" font-weight="bold" fill="#ff6a00">分</text>
<text x="27.5" y="653.8" font-size="12.2" fill="#fff">指标</text>
<text x="67.5" y="653.8" font-size="12.2" fill="#fff">模板</text>
<text x="125.3" y="653.8" font-size="12.2" fill="#ff6a00">指标</text>
<text x="585.5" y="654.3" font-size="12.2" fill="#d6d6d6">设置</text>
<text x="961" y="634.3" font-size="12" fill="#f5a133">四</text>
</g>
</svg>
<div class="t" style="right:1091px;top:14.3px;font-size:12px;color:#efefef;line-height:14px;letter-spacing:0.22px;">99.9921</div>
<div class="t" style="left:1111px;top:14.3px;font-size:12px;color:#efefef;line-height:14px;letter-spacing:0.22px;">99.9921</div>
<div class="t" style="right:1091px;top:75.3px;font-size:12px;color:#efefef;line-height:14px;letter-spacing:0.22px;">99.9502</div>
<div class="t" style="left:1111px;top:75.3px;font-size:12px;color:#efefef;line-height:14px;letter-spacing:0.22px;">99.9502</div>
<div class="t" style="right:1091px;top:137.3px;font-size:12px;color:#efefef;line-height:14px;letter-spacing:0.22px;">99.9083</div>
<div class="t" style="left:1111px;top:137.3px;font-size:12px;color:#efefef;line-height:14px;letter-spacing:0.22px;">99.9083</div>
<div class="t" style="right:1091px;top:198.3px;font-size:12px;color:#efefef;line-height:14px;letter-spacing:0.22px;">99.8663</div>
<div class="t" style="left:1111px;top:198.3px;font-size:12px;color:#efefef;line-height:14px;letter-spacing:0.22px;">99.8663</div>
<div class="t" style="right:1091px;top:260.3px;font-size:12px;color:#efefef;line-height:14px;letter-spacing:0.22px;">99.8244</div>
<div class="t" style="left:1111px;top:260.3px;font-size:12px;color:#efefef;line-height:14px;letter-spacing:0.22px;">99.8244</div>
<div class="t" style="right:1091px;top:321.3px;font-size:12px;color:#efefef;line-height:14px;letter-spacing:0.22px;">99.7825</div>
<div class="t" style="left:1111px;top:321.3px;font-size:12px;color:#efefef;line-height:14px;letter-spacing:0.22px;">99.7825</div>
<div class="t" style="right:1091px;top:383.3px;font-size:12px;color:#efefef;line-height:14px;letter-spacing:0.22px;">99.7406</div>
<div class="t" style="left:1111px;top:383.3px;font-size:12px;color:#efefef;line-height:14px;letter-spacing:0.22px;">99.7406</div>
<div class="t" style="right:1091px;top:467.3px;font-size:12px;color:#efefef;line-height:14px;letter-spacing:0.22px;">0.0282</div>
<div class="t" style="left:1111px;top:467.3px;font-size:12px;color:#efefef;line-height:14px;letter-spacing:0.22px;">0.0282</div>
<div class="t" style="right:1091px;top:491.3px;font-size:12px;color:#efefef;line-height:14px;letter-spacing:0.22px;">0.0197</div>
<div class="t" style="left:1111px;top:491.3px;font-size:12px;color:#efefef;line-height:14px;letter-spacing:0.22px;">0.0197</div>
<div class="t" style="right:1091px;top:516.3px;font-size:12px;color:#efefef;line-height:14px;letter-spacing:0.22px;">0.0113</div>
<div class="t" style="left:1111px;top:516.3px;font-size:12px;color:#efefef;line-height:14px;letter-spacing:0.22px;">0.0113</div>
<div class="t" style="right:1091px;top:540.3px;font-size:12px;color:#efefef;line-height:14px;letter-spacing:0.22px;">0.0028</div>
<div class="t" style="left:1111px;top:540.3px;font-size:12px;color:#efefef;line-height:14px;letter-spacing:0.22px;">0.0028</div>
<div class="t" style="right:1091px;top:565.3px;font-size:12px;color:#efefef;line-height:14px;letter-spacing:0.22px;">-0.0057</div>
<div class="t" style="left:1112px;top:565.3px;font-size:12px;color:#efefef;line-height:14px;letter-spacing:0.22px;">-0.0057</div>
<div class="t" style="right:1091px;top:589.3px;font-size:12px;color:#efefef;line-height:14px;letter-spacing:0.22px;">-0.0141</div>
<div class="t" style="left:1112px;top:589.3px;font-size:12px;color:#efefef;line-height:14px;letter-spacing:0.22px;">-0.0141</div>
<div class="t" style="left:1111px;top:103.3px;font-size:12px;color:#f5a133;line-height:14px;letter-spacing:0.22px;">99.9380</div>
<div class="t" style="left:1110.5px;top:447.2px;font-size:12px;color:#f5a133;line-height:14px;letter-spacing:0.22px;">99.7035</div>
<div class="t" style="left:100.5px;top:202.3px;font-size:12px;color:#ee5060;line-height:14px;font-weight:bold;letter-spacing:0.22px;">99.8597</div>
<div class="t" style="left:1018.5px;top:51.3px;font-size:12px;color:#ee5060;line-height:14px;font-weight:bold;letter-spacing:0.22px;">99.9627</div>
<div class="t" style="left:540px;top:425.2px;font-size:12px;color:#52bf8d;line-height:14px;font-weight:bold;letter-spacing:0.22px;">99.7179</div>
<div class="t" style="left:152.4px;top:3.6px;font-size:12px;color:#ff6a00;line-height:14px;">1</div>
<div class="t" style="left:92.5px;top:456.0px;font-size:12px;color:#efefef;line-height:14px;letter-spacing:0.12px;">MACD(26,12,9)</div>
<div class="t" style="left:182.5px;top:456.0px;font-size:12px;color:#efefef;line-height:14px;letter-spacing:-0.1px;">DIFF:0.0184</div>
<div class="t" style="left:257px;top:456.0px;font-size:12px;color:#d2d21e;line-height:14px;letter-spacing:-0.1px;">DEA:0.0196</div>
<div class="t" style="left:329.5px;top:456.0px;font-size:12px;color:#cc22cc;line-height:14px;letter-spacing:0.2px;">MACD:-0.0023</div>
<div class="t" style="left:545px;top:623.3px;font-size:12px;color:#fff;line-height:14px;font-weight:bold;">20:00</div>
<div class="t" style="left:1025px;top:623.3px;font-size:12px;color:#fff;line-height:14px;font-weight:bold;">21:00</div>
<div class="t" style="left:37.2px;top:626.2px;font-size:12px;color:#ff6a00;line-height:14px;font-weight:bold;">1</div>
<div class="t" style="left:813.5px;top:623.3px;font-size:12px;color:#f5a133;line-height:14px;letter-spacing:0.5px;">2025/07/31</div>
<div class="t" style="left:883.5px;top:623.3px;font-size:12px;color:#f5a133;line-height:14px;">20:33</div>
<div class="t" style="left:916.8px;top:623.3px;font-size:12px;color:#f5a133;line-height:14px;">~</div>
<div class="t" style="left:926.5px;top:623.3px;font-size:12px;color:#f5a133;line-height:14px;">20:34</div>
<div class="t" style="left:1049px;top:603px;font-size:29.6px;line-height:36px;letter-spacing:2.8px;color:#dfe7f4;">FX678</div>
<div class="t" style="left:108px;top:643.0px;font-size:11.4px;color:#ff6a00;line-height:14px;font-family:'Liberation Mono',monospace;transform:scaleX(0.877);transform-origin:0 50%;">VIP</div>
<div class="t" style="left:166px;top:643.0px;font-size:11.4px;color:#c8c8c8;line-height:14px;font-family:'Liberation Mono',monospace;transform:scaleX(0.877);transform-origin:0 50%;">MA</div>
<div class="t" style="left:194px;top:643.0px;font-size:11.4px;color:#c8c8c8;line-height:14px;font-family:'Liberation Mono',monospace;transform:scaleX(0.877);transform-origin:0 50%;">MACD</div>
<div class="t" style="left:234px;top:643.0px;font-size:11.4px;color:#c8c8c8;line-height:14px;font-family:'Liberation Mono',monospace;transform:scaleX(0.877);transform-origin:0 50%;">BIAS</div>
<div class="t" style="left:273.5px;top:643.0px;font-size:11.4px;color:#c8c8c8;line-height:14px;font-family:'Liberation Mono',monospace;transform:scaleX(0.877);transform-origin:0 50%;">CCI</div>
<div class="t" style="left:308px;top:643.0px;font-size:11.4px;color:#c8c8c8;line-height:14px;font-family:'Liberation Mono',monospace;transform:scaleX(0.877);transform-origin:0 50%;">KDJ</div>
<div class="t" style="left:342px;top:643.0px;font-size:11.4px;color:#c8c8c8;line-height:14px;font-family:'Liberation Mono',monospace;transform:scaleX(0.877);transform-origin:0 50%;">LW&amp;</div>
<div class="t" style="left:381.5px;top:643.0px;font-size:11.4px;color:#c8c8c8;line-height:14px;font-family:'Liberation Mono',monospace;transform:scaleX(0.877);transform-origin:0 50%;">RSI</div>
<div class="t" style="left:415.5px;top:643.0px;font-size:11.4px;color:#c8c8c8;line-height:14px;font-family:'Liberation Mono',monospace;transform:scaleX(0.877);transform-origin:0 50%;">CR</div>
<div class="t" style="left:443.5px;top:643.0px;font-size:11.4px;color:#c8c8c8;line-height:14px;font-family:'Liberation Mono',monospace;transform:scaleX(0.877);transform-origin:0 50%;">PSY</div>
<div class="t" style="left:478px;top:643.0px;font-size:11.4px;color:#c8c8c8;line-height:14px;font-family:'Liberation Mono',monospace;transform:scaleX(0.877);transform-origin:0 50%;">BOLL</div>
<div class="t" style="left:518px;top:643.0px;font-size:11.4px;color:#c8c8c8;line-height:14px;font-family:'Liberation Mono',monospace;transform:scaleX(0.877);transform-origin:0 50%;">VOL</div>
<div class="t" style="left:552px;top:643.0px;font-size:11.4px;color:#c8c8c8;line-height:14px;font-family:'Liberation Mono',monospace;transform:scaleX(0.877);transform-origin:0 50%;">OBV</div>
</body></html>
